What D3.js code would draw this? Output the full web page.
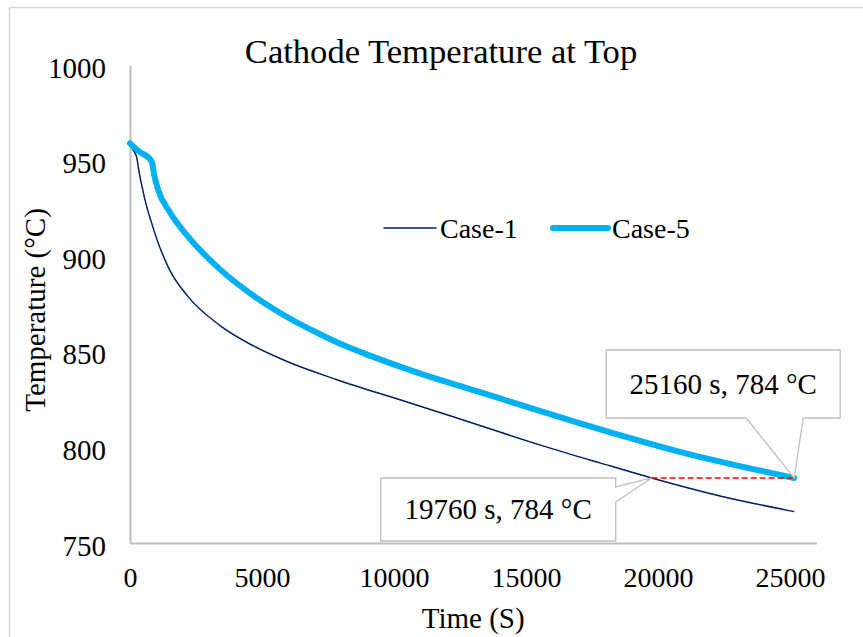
<!DOCTYPE html>
<html>
<head>
<meta charset="utf-8">
<script src="https://cdn.jsdelivr.net/npm/d3@7"></script>
<style>
  body { margin: 0; background: #fff; }
  svg { display: block; font-family: "Liberation Serif", "Times New Roman", serif; }
</style>
</head>
<body>
<script>
// Case-1 (thin navy line)
const case1Time = [0, 110, 250, 340, 460, 610, 800, 1020, 1510, 2160, 3410, 4660, 5950, 7840, 10230, 12120, 15640, 17800, 19760, 22350, 25160];
const case1Temp = [959, 955.7, 951.8, 944.4, 936.1, 927.1, 918.2, 908.8, 892.6, 879.5, 863.7, 853.2, 844.9, 835.4, 824.9, 816.6, 800.8, 791.9, 784.0, 774.6, 766.4];

// Case-5 (thick light blue line)
const case5Time = [0, 380, 680, 830, 910, 1060, 1510, 2160, 3410, 4660, 5950, 7200, 8100, 9090, 11000, 13070, 15000, 17050, 20830, 25160];
const case5Temp = [959, 954.4, 951.8, 949.2, 942.9, 935.0, 923.0, 910.9, 893.1, 879.5, 868.2, 859.2, 853.4, 848.0, 838.6, 829.7, 821.3, 812.6, 797.7, 784];

const xTicks = [0, 5000, 10000, 15000, 20000, 25000];
const yTicks = [750, 800, 850, 900, 950, 1000];

// annotated points
const markA = {time: 25160, temp: 784, label: "25160 s, 784 °C"};
const markB = {time: 19760, temp: 784, label: "19760 s, 784 °C"};

const width = 863, height = 637;
const plot = {left: 130, right: 816.4, top: 65, bottom: 543};

const svg = d3.select("body").append("svg")
  .attr("width", width)
  .attr("height", height);

// chart area border (cut off at right and bottom like the reference)
svg.append("rect")
  .attr("x", 9.5).attr("y", 7.5)
  .attr("width", 900).attr("height", 700)
  .attr("fill", "#fff")
  .attr("stroke", "#D9D9D9")
  .attr("stroke-width", 1.5);

const x = d3.scaleLinear().domain([0, 26000]).range([plot.left, plot.right]);
const y = d3.scaleLinear().domain([750, 1000]).range([plot.bottom, plot.top]);

// axes
const yAxis = svg.append("g")
  .attr("transform", `translate(${plot.left},0)`)
  .call(d3.axisLeft(y).tickValues(yTicks).tickSize(0).tickPadding(24).tickFormat(d3.format("d")));
const xAxis = svg.append("g")
  .attr("transform", `translate(0,${plot.bottom})`)
  .call(d3.axisBottom(x).tickValues(xTicks).tickSize(0).tickPadding(24).tickFormat(d3.format("d")));

[xAxis, yAxis].forEach(g => {
  g.attr("font-family", null).attr("font-size", null);
  g.select(".domain").attr("stroke", "#BFBFBF").attr("stroke-width", 2);
  g.selectAll("text").attr("fill", "#000").style("font-size", "28px");
});
yAxis.selectAll("text").attr("dy", "0.42em").style("font-size", "29px");

// title and axis titles
svg.append("text")
  .attr("x", 441).attr("y", 63)
  .attr("text-anchor", "middle")
  .style("font-size", "34.6px")
  .text("Cathode Temperature at Top");

svg.append("text")
  .attr("x", (plot.left + plot.right) / 2).attr("y", 628)
  .attr("text-anchor", "middle")
  .style("font-size", "29px")
  .text("Time (S)");

svg.append("text")
  .attr("transform", "translate(45,310) rotate(-90)")
  .attr("text-anchor", "middle")
  .style("font-size", "29px")
  .text("Temperature (°C)");

// lines
const line = d3.line()
  .x(d => x(d[0]))
  .y(d => y(d[1]))
  .curve(d3.curveMonotoneX);

svg.append("path")
  .datum(d3.zip(case1Time, case1Temp))
  .attr("fill", "none")
  .attr("stroke", "#002060")
  .attr("stroke-width", 1.5)
  .attr("d", line);

svg.append("path")
  .datum(d3.zip(case5Time, case5Temp))
  .attr("fill", "none")
  .attr("stroke", "#00B0F0")
  .attr("stroke-width", 6)
  .attr("stroke-linecap", "round")
  .attr("stroke-linejoin", "round")
  .attr("d", line);

// red dashed connector at equal temperature
svg.append("line")
  .attr("x1", x(markB.time)).attr("y1", y(markB.temp))
  .attr("x2", x(markA.time)).attr("y2", y(markA.temp))
  .attr("stroke", "#FF0000")
  .attr("stroke-width", 1.5)
  .attr("stroke-dasharray", "6,3");

// callout A: box above-left, pointer down to the point
{
  const ax = x(markA.time), ay = y(markA.temp);
  const l = ax - 188, r = ax + 46, t = ay - 128, b = ay - 60;
  svg.append("path")
    .attr("d", `M${l},${t}H${r}V${b}H${ax + 9}L${ax},${ay}L${ax - 48},${b}H${l}Z`)
    .attr("fill", "#fff")
    .attr("stroke", "#BFBFBF")
    .attr("stroke-width", 1.3);
  svg.append("text")
    .attr("x", (l + r) / 2).attr("y", (t + b) / 2 + 10)
    .attr("text-anchor", "middle")
    .style("font-size", "29px")
    .text(markA.label);
}

// callout B: box below-left, pointer to the right
{
  const ax = x(markB.time), ay = y(markB.temp);
  const l = ax - 271, r = ax - 36, t = ay, b = ay + 63;
  svg.append("path")
    .attr("d", `M${l},${t}H${r}V${ay + 9}L${ax},${ay}L${r},${ay + 24}V${b}H${l}Z`)
    .attr("fill", "#fff")
    .attr("stroke", "#BFBFBF")
    .attr("stroke-width", 1.3);
  svg.append("text")
    .attr("x", (l + r) / 2).attr("y", (t + b) / 2 + 10)
    .attr("text-anchor", "middle")
    .style("font-size", "29px")
    .text(markB.label);
}

// legend
const legendItems = [
  {name: "Case-1", color: "#002060", width: 1.5, x0: 384, x1: 436},
  {name: "Case-5", color: "#00B0F0", width: 6, x0: 553, x1: 608}
];
const legend = svg.append("g");
legendItems.forEach(d => {
  legend.append("line")
    .attr("x1", d.x0).attr("x2", d.x1)
    .attr("y1", 228).attr("y2", 228)
    .attr("stroke", d.color)
    .attr("stroke-width", d.width)
    .attr("stroke-linecap", "round");
  legend.append("text")
    .attr("x", d.x1 + 4).attr("y", 238)
    .style("font-size", "28px")
    .text(d.name);
});
</script>
</body>
</html>
